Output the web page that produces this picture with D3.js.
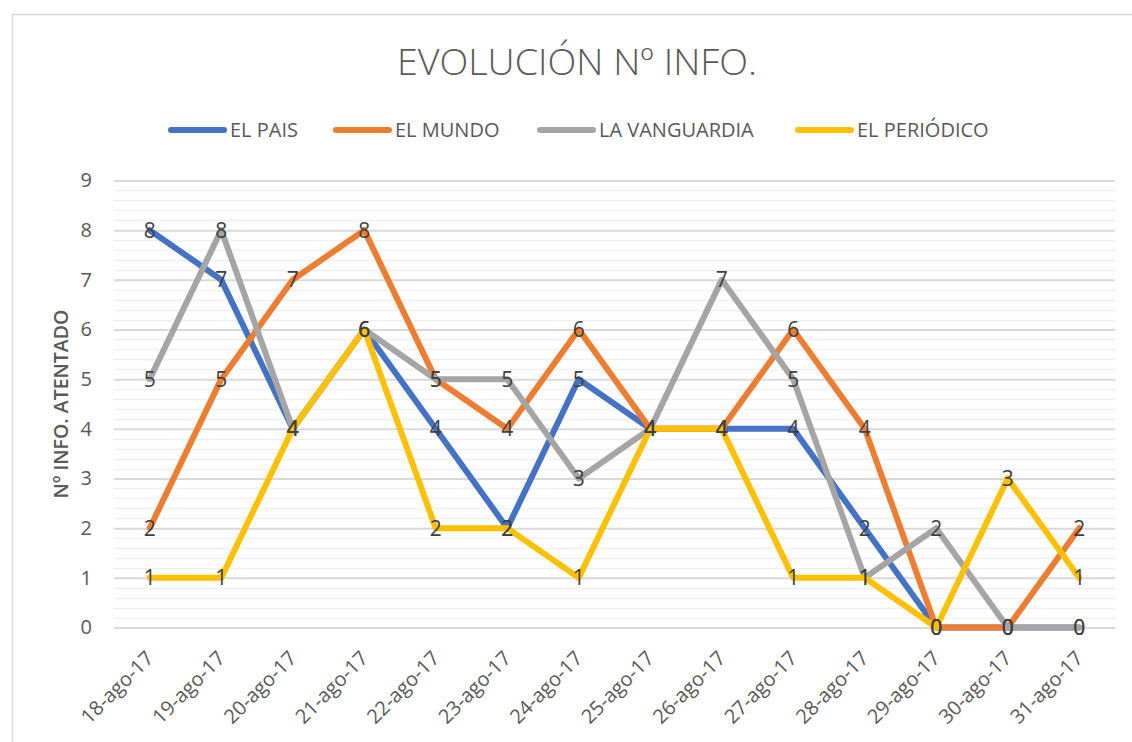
<!DOCTYPE html>
<html><head><meta charset="utf-8">
<script src="https://cdn.jsdelivr.net/npm/d3@7"></script>
<style>body{margin:0;background:#fff}svg{display:block}</style>
</head><body>
<svg id="c" width="1132" height="742"></svg>
<script>
const categories = ["18-ago-17","19-ago-17","20-ago-17","21-ago-17","22-ago-17","23-ago-17","24-ago-17","25-ago-17","26-ago-17","27-ago-17","28-ago-17","29-ago-17","30-ago-17","31-ago-17"];
const seriesNames = ["EL PAIS","EL MUNDO","LA VANGUARDIA","EL PERIÓDICO"];
const elPais = [8,7,4,6,4,2,5,4,4,4,2,0,0,0];
const elMundo = [2,5,7,8,5,4,6,4,4,6,4,0,0,2];
const laVanguardia = [5,8,4,6,5,5,3,4,7,5,1,2,0,0];
const elPeriodico = [1,1,4,6,2,2,1,4,4,1,1,0,3,1];
const yTicks = [0,1,2,3,4,5,6,7,8,9];
const colors = ["#4472C4","#ED7D31","#A5A5A5","#FFC000"];
const title = "EVOLUCIÓN Nº INFO.";
const yTitle = "Nº INFO. ATENTADO";

const series = [elPais, elMundo, laVanguardia, elPeriodico].map((v,i)=>({name:seriesNames[i], values:v, color:colors[i]}));
const svg = d3.select("#c");
const FONT = "'Open Sans', 'DejaVu Sans', sans-serif";

// outer border
svg.append("rect").attr("x",12.5).attr("y",14.5).attr("width",1140).attr("height",760)
  .attr("fill","#fff").attr("stroke","#d9d9d9").attr("stroke-width",1.5);

const L = 114, R = 1115, T = 180.5, B = 627.5;
const x = d3.scaleBand().domain(categories).range([L,R]);
const y = d3.scaleLinear().domain([0,9]).range([B,T]);

// minor gridlines
const minor = d3.range(0,9.0001,0.2).filter(v=>Math.abs(v-Math.round(v))>1e-6);
svg.append("g").selectAll("line").data(minor).join("line")
  .attr("x1",L).attr("x2",R).attr("y1",d=>Math.round(y(d))+0.5).attr("y2",d=>Math.round(y(d))+0.5)
  .attr("stroke","#f0f0f0").attr("stroke-width",1.5);
// major gridlines via axis
const yAxis = svg.append("g").attr("transform",`translate(${L},0)`)
  .call(d3.axisLeft(y).tickValues(yTicks).tickSize(-(R-L)).tickPadding(22).tickFormat(d3.format("d")));
yAxis.select(".domain").remove();
yAxis.selectAll(".tick line").attr("stroke","#d9d9d9").attr("stroke-width",2);
yAxis.selectAll(".tick text").attr("fill","#595959").style("font-family",FONT).style("font-size","20px");

// x axis labels
const xAxis = svg.append("g").attr("transform",`translate(0,${B})`)
  .call(d3.axisBottom(x).tickSize(0).tickPadding(0));
xAxis.select(".domain").remove();
xAxis.selectAll(".tick text")
  .attr("fill","#595959").style("font-family",FONT).style("font-size","20px")
  .attr("text-anchor","end").attr("dy",null).attr("y",null)
  .attr("transform","translate(5,32) rotate(-45)");

// lines
const line = d3.line().x((d,i)=>x(categories[i])+x.bandwidth()/2).y(d=>y(d));
svg.append("g").selectAll("path").data(series).join("path")
  .attr("d",d=>line(d.values)).attr("fill","none").attr("stroke",d=>d.color)
  .attr("stroke-width",6).attr("stroke-linejoin","round").attr("stroke-linecap","round");

// data labels
const lg = svg.append("g");
series.forEach(s=>{
  lg.selectAll(null).data(s.values).join("text")
    .attr("x",(d,i)=>x(categories[i])+x.bandwidth()/2).attr("y",d=>y(d))
    .attr("dy","0.36em").attr("text-anchor","middle")
    .attr("fill","#404040").style("font-family",FONT).style("font-size","21px")
    .text(d=>d);
});

// title
const t = svg.append("text").attr("x",577).attr("y",75).attr("text-anchor","middle")
  .attr("fill","#595959").style("font-family",FONT).style("font-weight",300).style("font-size","36px").text(title);
const tw = t.node().getComputedTextLength();
t.style("font-size",(36*360/tw)+"px");

// y axis title
svg.append("text").attr("transform","translate(68,404) rotate(-90)").attr("text-anchor","middle")
  .attr("fill","#595959").style("font-family",FONT).style("font-weight",600).style("font-size","19.5px").text(yTitle);

// legend
const legX = [168,333,537,795];
const leg = svg.append("g");
series.forEach((s,i)=>{
  leg.append("line").attr("x1",legX[i]+3).attr("x2",legX[i]+56).attr("y1",130).attr("y2",130)
    .attr("stroke",s.color).attr("stroke-width",6).attr("stroke-linecap","round");
  leg.append("text").attr("x",legX[i]+62).attr("y",130).attr("dy","0.36em")
    .attr("fill","#595959").style("font-family",FONT).style("font-size","20px").text(s.name);
});
</script>
</body></html>
